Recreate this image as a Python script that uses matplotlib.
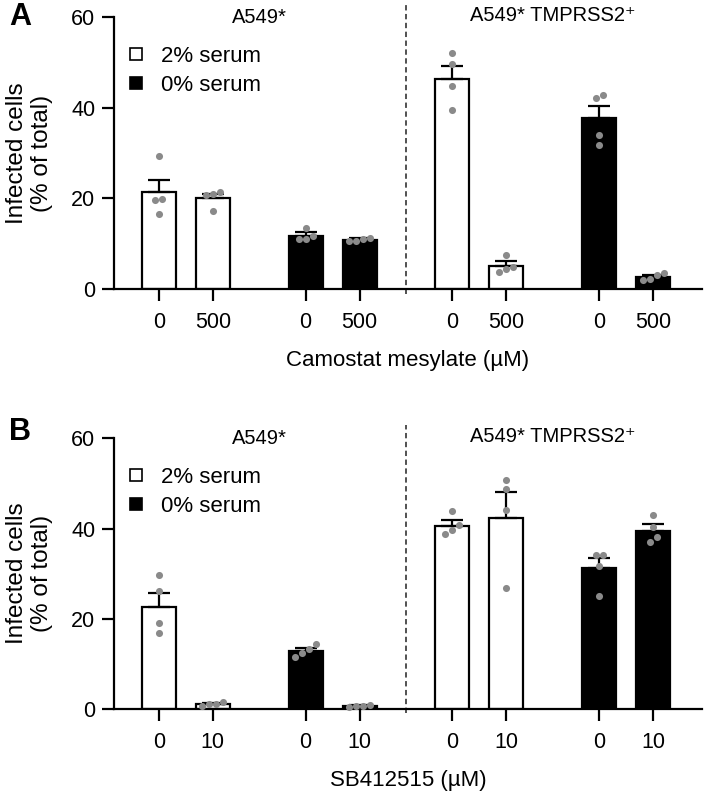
import numpy as np
import matplotlib
matplotlib.use("Agg")
import matplotlib.pyplot as plt
from matplotlib.lines import Line2D

plt.rcParams['font.family'] = ['Liberation Sans', 'DejaVu Sans']

# ---- data ----
serum = ['2% serum', '2% serum', '0% serum', '0% serum',
         '2% serum', '2% serum', '0% serum', '0% serum']
cell_lines = ['A549*', 'A549* TMPRSS2\u207a']

camostat_ticks = ['0', '500'] * 4
camostat_mean = [21.4, 20.0, 11.8, 10.8, 46.4, 5.15, 37.7, 2.6]
camostat_sem = [2.7, 1.1, 0.7, 0.4, 2.9, 1.05, 2.7, 0.5]
camostat_pts = [
    [29.4, 19.9, 19.7, 16.6],
    [21.4, 21.1, 20.8, 17.3],
    [11.7, 13.5, 11.1, 11.1],
    [11.2, 11.0, 10.6, 10.5],
    [52.2, 49.7, 44.9, 39.5],
    [7.4, 4.9, 4.4, 3.8],
    [42.8, 42.3, 34.1, 31.8],
    [3.0, 3.5, 2.1, 2.0],
]

sb_ticks = ['0', '10'] * 4
sb_mean = [22.7, 1.0, 12.9, 0.7, 40.6, 42.4, 31.2, 39.5]
sb_sem = [3.1, 0.3, 0.7, 0.15, 1.3, 5.6, 2.2, 1.5]
sb_pts = [
    [29.6, 26.2, 19.1, 16.8],
    [1.5, 1.2, 1.0, 0.6],
    [14.3, 13.2, 12.3, 11.6],
    [0.9, 0.7, 0.5, 0.6],
    [43.9, 40.8, 39.7, 38.8],
    [50.7, 48.7, 44.1, 26.8],
    [34.1, 34.1, 31.6, 25.1],
    [43.1, 40.3, 38.1, 37.0],
]

# ---- layout ----
pos = np.array([0, 1, 2.72, 3.72, 5.44, 6.44, 8.16, 9.16])
bar_w = 0.63
divider = (pos[3] + pos[4]) / 2
fill = {'2% serum': 'white', '0% serum': 'black'}
LW = 1.6


def swarm(vals, x0, ax, diam=7.0):
    # spread points that overlap vertically, centred on x0
    p0 = ax.transData.transform((0, 0))
    p1 = ax.transData.transform((1, 1))
    sx, sy = p1 - p0
    order = np.argsort(vals)
    v = np.asarray(vals)[order]
    groups, cur = [], [0]
    for i in range(1, len(v)):
        if (v[i] - v[cur[-1]]) * sy < diam:
            cur.append(i)
        else:
            groups.append(cur)
            cur = [i]
    groups.append(cur)
    xs = np.zeros(len(v))
    for g in groups:
        n = len(g)
        for k, i in enumerate(g):
            xs[i] = x0 + (k - (n - 1) / 2) * diam / sx
    return xs, v


def panel(ax, means, sems, pts, ticks, xlabel):
    ax.set_xlim(-0.83, 10.06)
    ax.set_ylim(0, 60)
    colors = [fill[s] for s in serum]
    ax.bar(pos, means, width=bar_w, color=colors, edgecolor='black',
           linewidth=LW, zorder=2)
    ax.errorbar(pos, means, yerr=[np.zeros(len(sems)), sems], fmt='none',
                ecolor='black', elinewidth=LW, capsize=8, capthick=LW, zorder=3)
    for x0, vals in zip(pos, pts):
        xs, v = swarm(vals, x0, ax)
        ax.scatter(xs, v, s=26, color='#8a8a8a', linewidths=0, zorder=4,
                   clip_on=False)
    ax.plot([divider, divider], [-1, 63], ls=(0, (3.5, 2.3)), lw=1.1,
            color='#222222', clip_on=False, zorder=1)
    ax.text((pos[0] + pos[3]) / 2, 60, cell_lines[0], ha='center',
            va='center', fontsize=14.5)
    ax.text((pos[4] + pos[7]) / 2, 60.5, cell_lines[1], ha='center',
            va='center', fontsize=14.5)

    for s in ['top', 'right']:
        ax.spines[s].set_visible(False)
    for s in ['left', 'bottom']:
        ax.spines[s].set_linewidth(LW)
    ax.set_xticks(pos)
    ax.set_xticklabels(ticks)
    ax.set_yticks([0, 20, 40, 60])
    ax.tick_params(axis='both', length=8.5, width=LW, labelsize=15.5, pad=5)
    ax.tick_params(axis='x', pad=8)
    ax.set_ylabel('Infected cells\n(% of total)', fontsize=17.5, labelpad=13,
                  linespacing=1.2)
    ax.set_xlabel(xlabel, fontsize=16, labelpad=12)

    handles = [Line2D([], [], marker='s', ls='none', mfc='white', mec='black',
                      mew=1.2, ms=8.5),
               Line2D([], [], marker='s', ls='none', mfc='black', mec='black',
                      mew=1.2, ms=8.5)]
    ax.legend(handles, ['2% serum', '0% serum'], loc='upper left',
              bbox_to_anchor=(0.0, 0.935), frameon=False, fontsize=16,
              handlelength=1.0, handletextpad=0.6, labelspacing=0.35,
              borderpad=0.2, borderaxespad=0.3)


fig = plt.figure(figsize=(7.09, 7.95), dpi=100)
axA = fig.add_axes([0.1608, 0.6365, 0.829, 0.3415])
axB = fig.add_axes([0.1608, 0.1082, 0.829, 0.3405])

panel(axA, camostat_mean, camostat_sem, camostat_pts, camostat_ticks,
      'Camostat mesylate (\u00b5M)')
panel(axB, sb_mean, sb_sem, sb_pts, sb_ticks, 'SB412515 (\u00b5M)')

fig.text(0.028, 0.978, 'A', fontsize=22, fontweight='bold', ha='center',
         va='center')
fig.text(0.028, 0.456, 'B', fontsize=22, fontweight='bold', ha='center',
         va='center')

fig.savefig('out.png', dpi=100)
